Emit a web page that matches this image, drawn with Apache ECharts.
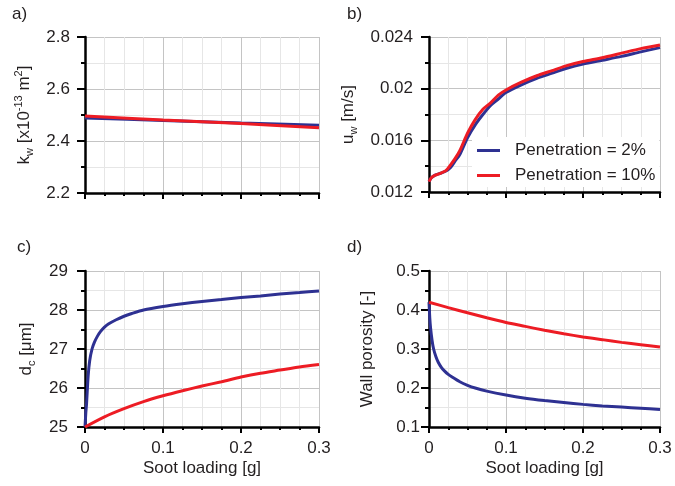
<!DOCTYPE html>
<html><head><meta charset="utf-8">
<script src="https://cdn.jsdelivr.net/npm/echarts@6/dist/echarts.min.js"></script>
<style>html,body{margin:0;padding:0;background:#fff}#c{width:675px;height:486px}</style>
</head><body><div id="c"></div>
<script>
// ---- data ----
var xTicks = [0, 0.1, 0.2, 0.3];
var seriesNames = ['Penetration = 2%', 'Penetration = 10%'];

// a) permeability k_w
var aX = [0, 0.1, 0.2, 0.3];
var aBlue = [2.488, 2.479, 2.469, 2.461];
var aRed = [2.496, 2.481, 2.467, 2.451];

// b) wall velocity u_w
var bX = [0, 0.003, 0.008, 0.015, 0.022, 0.028, 0.034, 0.04, 0.05, 0.06, 0.07, 0.08, 0.09, 0.1, 0.12, 0.14, 0.16, 0.18, 0.2, 0.225, 0.25, 0.275, 0.3];
var bBlue = [0.0128, 0.0131, 0.0133, 0.01345, 0.01362, 0.0139, 0.0144, 0.0149, 0.0162, 0.0172, 0.0180, 0.0187, 0.0192, 0.0197, 0.0203, 0.0208, 0.0212, 0.0216, 0.0219, 0.0222, 0.0225, 0.02285, 0.02318];
var bRed = [0.0128, 0.0131, 0.0133, 0.01345, 0.01365, 0.0141, 0.0146, 0.0152, 0.01655, 0.0176, 0.0184, 0.0189, 0.0195, 0.0199, 0.0205, 0.0210, 0.0214, 0.0218, 0.0221, 0.0224, 0.02275, 0.0231, 0.02338];

// c) collector diameter d_c
var cBlueX = [0, 0.001, 0.002, 0.004, 0.006, 0.009, 0.012, 0.016, 0.02, 0.025, 0.03, 0.04, 0.05, 0.06, 0.075, 0.1, 0.125, 0.15, 0.175, 0.2, 0.225, 0.25, 0.275, 0.3];
var cBlue = [25.0, 25.35, 25.6, 26.3, 26.7, 27.0, 27.17, 27.33, 27.45, 27.56, 27.64, 27.75, 27.84, 27.91, 28.0, 28.09, 28.16, 28.22, 28.27, 28.32, 28.36, 28.41, 28.45, 28.49];
var cRedX = [0, 0.025, 0.05, 0.075, 0.1, 0.125, 0.15, 0.175, 0.2, 0.225, 0.25, 0.275, 0.3];
var cRed = [25.0, 25.26, 25.47, 25.65, 25.8, 25.93, 26.05, 26.16, 26.28, 26.38, 26.46, 26.54, 26.6];

// d) wall porosity
var dBlueX = [0, 0.001, 0.002, 0.004, 0.006, 0.009, 0.012, 0.016, 0.02, 0.025, 0.03, 0.04, 0.05, 0.06, 0.075, 0.1, 0.125, 0.15, 0.175, 0.2, 0.225, 0.25, 0.275, 0.3];
var dBlue = [0.42, 0.38, 0.355, 0.322, 0.300, 0.280, 0.266, 0.253, 0.244, 0.235, 0.228, 0.216, 0.207, 0.200, 0.192, 0.182, 0.174, 0.168, 0.163, 0.158, 0.154, 0.151, 0.148, 0.145];
var dRedX = [0, 0.025, 0.05, 0.075, 0.1, 0.125, 0.15, 0.175, 0.2, 0.225, 0.25, 0.275, 0.3];
var dRed = [0.42, 0.406, 0.393, 0.380, 0.368, 0.358, 0.348, 0.339, 0.331, 0.324, 0.317, 0.311, 0.305];

// y-axis ranges
var aY = {min: 2.2, max: 2.8, interval: 0.2};
var bY = {min: 0.012, max: 0.024, interval: 0.004};
var cY = {min: 25, max: 29, interval: 1};
var dY = {min: 0.1, max: 0.5, interval: 0.1};

// ---- build ----
var BLUE = '#2e3192', RED = '#ed1c24', TXT = '#231f20';
var FONT = 'Liberation Sans, Arial, sans-serif';
function zip(xs, ys) { return xs.map(function (x, i) { return [x, ys[i]]; }); }

var grids = [
  {left: 85, top: 37, width: 234, height: 156},
  {left: 429, top: 37, width: 231, height: 155},
  {left: 85, top: 271, width: 234, height: 156},
  {left: 429, top: 271, width: 231, height: 156}
];

var rich = {
  n: {fontSize: 17, fontFamily: FONT, color: TXT, lineHeight: 22, verticalAlign: 'middle'},
  s: {fontSize: 11, fontFamily: FONT, color: TXT, lineHeight: 10, verticalAlign: 'bottom'},
  p: {fontSize: 11, fontFamily: FONT, color: TXT, lineHeight: 10, verticalAlign: 'top'}
};

function xAxis(i, showLabel) {
  return {
    type: 'value', gridIndex: i, min: xTicks[0], max: xTicks[xTicks.length - 1], interval: 0.1,
    name: showLabel ? 'Soot loading [g]' : '', nameLocation: 'middle', nameGap: 33,
    nameTextStyle: {fontSize: 17, fontFamily: FONT, color: TXT},
    axisLine: {show: true, onZero: false, lineStyle: {color: '#000', width: 2.5}},
    axisTick: {show: true, length: 6, lineStyle: {color: '#000', width: 2}},
    minorTick: {show: true, splitNumber: 4, length: 3, lineStyle: {color: '#000', width: 2}},
    splitLine: {show: true, lineStyle: {color: '#c4c4c4', width: 1}},
    minorSplitLine: {show: true, lineStyle: {color: '#e6e6e6', width: 1}},
    axisLabel: {show: showLabel, fontSize: 17, fontFamily: FONT, color: TXT, margin: 13,
      formatter: function (v) { return String(Math.round(v * 10) / 10); }}
  };
}
function yAxis(i, r, name, gap, margin, dec) {
  return {
    type: 'value', gridIndex: i, min: r.min, max: r.max, interval: r.interval,
    name: name, nameLocation: 'middle', nameGap: gap,
    nameTextStyle: {fontSize: 17, fontFamily: FONT, color: TXT, rich: rich},
    axisLine: {show: true, onZero: false, lineStyle: {color: '#000', width: 2.5}},
    axisTick: {show: true, length: 8, lineStyle: {color: '#000', width: 2}},
    minorTick: {show: true, splitNumber: 2, length: 4, lineStyle: {color: '#000', width: 2}},
    splitLine: {show: true, lineStyle: {color: '#c4c4c4', width: 1}},
    minorSplitLine: {show: true, lineStyle: {color: '#e6e6e6', width: 1}},
    axisLabel: {fontSize: 17, fontFamily: FONT, color: TXT, margin: margin,
      formatter: function (v) { return String(parseFloat(v.toFixed(dec))); }}
  };
}

function line(name, i, data, color) {
  return {
    type: 'line', name: name, xAxisIndex: i, yAxisIndex: i, data: data,
    showSymbol: false, symbol: 'none', smooth: 0.25,
    lineStyle: {color: color, width: 3}, itemStyle: {color: color}, z: 3
  };
}

var option = {
  animation: false,
  backgroundColor: '#fff',
  grid: grids,
  xAxis: [xAxis(0, false), xAxis(1, false), xAxis(2, true), xAxis(3, true)],
  yAxis: [
    yAxis(0, aY, '{n|k}{s|w}{n| [x10}{p|-13}{n| m}{p|2}{n|]}', 50, 15, 1),
    yAxis(1, bY, '{n|u}{s|w}{n| [m/s]}', 70, 16, 3),
    yAxis(2, cY, '{n|d}{s|c}{n| [μm]}', 48, 17, 0),
    yAxis(3, dY, '{n|Wall porosity [-]}', 51, 9, 1)
  ],
  legend: {
    data: seriesNames, orient: 'vertical', left: 472, top: 137,
    backgroundColor: '#fff', padding: [5, 4, 3, 5], itemGap: 8,
    icon: 'rect', itemWidth: 23, itemHeight: 3,
    textStyle: {fontSize: 17, fontFamily: FONT, color: TXT, padding: [0, 0, 0, 10]}
  },
  series: [
    line(seriesNames[0], 0, zip(aX, aBlue), BLUE),
    line(seriesNames[1], 0, zip(aX, aRed), RED),
    line(seriesNames[0], 1, zip(bX, bBlue), BLUE),
    line(seriesNames[1], 1, zip(bX, bRed), RED),
    line(seriesNames[0], 2, zip(cBlueX, cBlue), BLUE),
    line(seriesNames[1], 2, zip(cRedX, cRed), RED),
    line(seriesNames[0], 3, zip(dBlueX, dBlue), BLUE),
    line(seriesNames[1], 3, zip(dRedX, dRed), RED)
  ],
  graphic: [
    {type: 'text', left: 12, top: 6, style: {text: 'a)', font: '17px ' + FONT, fill: TXT}},
    {type: 'text', left: 347, top: 6, style: {text: 'b)', font: '17px ' + FONT, fill: TXT}},
    {type: 'text', left: 17, top: 239, style: {text: 'c)', font: '17px ' + FONT, fill: TXT}},
    {type: 'text', left: 347, top: 239, style: {text: 'd)', font: '17px ' + FONT, fill: TXT}}
  ]
};
echarts.init(document.getElementById('c')).setOption(option);
</script></body></html>
